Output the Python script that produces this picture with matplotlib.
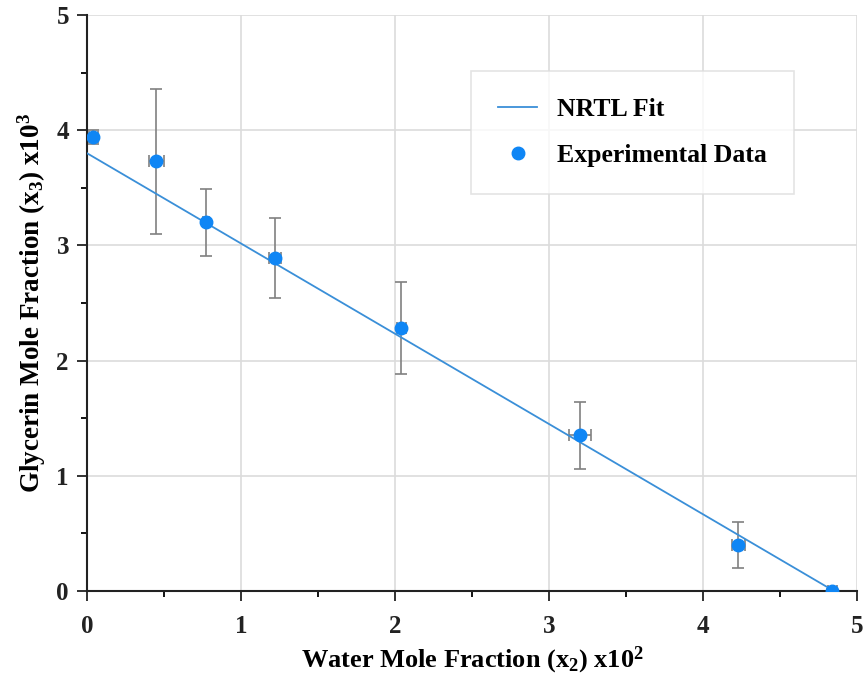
import matplotlib
matplotlib.use("Agg")
import matplotlib.pyplot as plt
from matplotlib.ticker import MultipleLocator

# Data
x_exp = [0.04, 0.45, 0.77, 1.22, 2.04, 3.20, 4.23, 4.84]
y_exp = [3.94, 3.73, 3.20, 2.89, 2.28, 1.35, 0.40, 0.00]
y_err = [0.06, 0.63, 0.29, 0.35, 0.40, 0.29, 0.20, 0.02]
x_err = [0.03, 0.05, 0.02, 0.04, 0.03, 0.07, 0.04, 0.03]
x_fit = [0.0, 4.85]
y_fit = [3.80, 0.0]

plt.rcParams['font.family'] = ['Liberation Serif', 'DejaVu Serif']
plt.rcParams['font.weight'] = 'bold'
plt.rcParams['mathtext.fontset'] = 'custom'
plt.rcParams['mathtext.rm'] = 'Liberation Serif:bold'
plt.rcParams['mathtext.bf'] = 'Liberation Serif:bold'
plt.rcParams['mathtext.it'] = 'Liberation Serif:bold'
plt.rcParams['mathtext.default'] = 'rm'

fig = plt.figure(figsize=(8.65, 6.78), dpi=100)
ax = fig.add_axes([0.1006, 0.1283, 0.8902, 0.8496])

ax.grid(True, color='#dcdcdc', linewidth=1.2, zorder=0)
ax.set_axisbelow(True)

ax.errorbar(x_exp, y_exp, yerr=y_err, xerr=x_err, fmt='none', ecolor='#808080',
            elinewidth=1.2, capsize=4, capthick=1.2, zorder=2)
line, = ax.plot(x_fit, y_fit, color='#3a8fd8', linewidth=1.3, zorder=3, label='NRTL Fit')
pts, = ax.plot(x_exp, y_exp, 'o', color='#0f86f5', markersize=9, zorder=4,
               linestyle='none', label='Experimental Data')

ax.set_xlim(0, 5)
ax.set_ylim(0, 5)
ax.xaxis.set_major_locator(MultipleLocator(1))
ax.yaxis.set_major_locator(MultipleLocator(1))
ax.xaxis.set_minor_locator(MultipleLocator(0.5))
ax.yaxis.set_minor_locator(MultipleLocator(0.5))
ax.tick_params(which='major', direction='out', length=7, width=1.3, labelsize=18, colors='#222222')
ax.tick_params(which='minor', direction='out', length=4, width=1.3)
ax.tick_params(axis='x', which='major', pad=10)
ax.tick_params(axis='y', which='major', pad=6)
for lab in ax.get_xticklabels() + ax.get_yticklabels():
    lab.set_fontweight('bold')

for s in ['top', 'right']:
    ax.spines[s].set_visible(False)
for s in ['left', 'bottom']:
    ax.spines[s].set_linewidth(1.5)
    ax.spines[s].set_color('#222222')

ax.set_xlabel('Water Mole Fraction (x$_2$) x10$^2$', fontsize=19, fontweight='bold', labelpad=5)
ax.set_ylabel('Glycerin Mole Fraction (x$_3$) x10$^3$', fontsize=19.5, fontweight='bold', labelpad=6)

leg = ax.legend(handles=[line, pts], loc='upper left', bbox_to_anchor=(0.499, 0.903),
                fontsize=18.5, frameon=True, fancybox=False, edgecolor='#dddddd',
                borderpad=1.05, labelspacing=0.9, handlelength=1.5, handletextpad=0.8,
                borderaxespad=0, handleheight=0.7)
leg.get_frame().set_linewidth(1.2)
for t in leg.get_texts():
    t.set_fontweight('bold')

fig.savefig('out.png', dpi=100)
